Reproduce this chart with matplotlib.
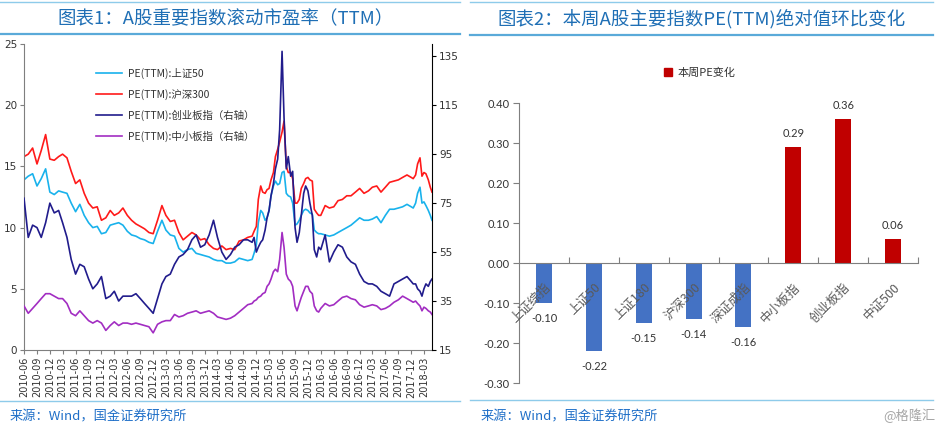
import matplotlib
matplotlib.use('Agg')
import matplotlib.pyplot as plt
from matplotlib.lines import Line2D
from matplotlib.patches import Patch
import numpy as np
import pandas as pd

plt.rcParams['font.family'] = ['Noto Sans CJK SC', 'DejaVu Sans']
plt.rcParams['axes.unicode_minus'] = False

# ---------------- data: chart 1 (dates) ----------------
monthly = pd.date_range('2010-06-01', '2018-04-01', freq='MS')
mid_2015 = pd.date_range('2014-11-01', '2016-02-01', freq='MS') + pd.Timedelta(days=14)
mid_2018 = pd.date_range('2017-12-01', '2018-04-01', freq='MS') + pd.Timedelta(days=14)
last_day = pd.DatetimeIndex(['2018-04-27'])
dates = monthly.union(mid_2015).union(mid_2018).union(last_day)

# PE(TTM) 上证50 (left axis)
sz50 = (
    [13.9, 14.2, 14.4, 13.4, 14.0, 14.8, 12.9] +
    [12.7, 13.0, 12.9, 12.8, 12.0, 11.3, 11.9, 11.0, 10.4, 10.0, 10.1, 9.5] +
    [9.6, 10.2, 10.3, 10.4, 10.2, 9.7, 9.4, 9.3, 9.1, 9.0, 8.8, 8.7] +
    [9.7, 10.6, 9.8, 9.4, 9.3, 8.3, 8.0, 8.2, 8.3, 7.9, 7.8, 7.7] +
    [7.6, 7.4, 7.3, 7.3, 7.1, 7.1, 7.2, 7.5, 7.4, 7.3, 7.4, 7.9, 8.6, 10.4] +
    [11.4, 11.2, 10.6, 10.8, 11.4, 12.6, 13.4, 13.8, 13.5, 13.6, 14.5, 14.6,
     12.8, 12.6, 12.5, 12.0, 10.2, 10.3, 10.6, 11.0, 11.4, 11.5, 11.4, 11.2] +
    [11.1, 9.8, 9.6, 9.5, 9.5, 9.4, 9.3, 9.4, 9.6, 9.8, 10.0, 10.2, 10.5, 10.8] +
    [10.6, 10.6, 10.7, 10.9, 10.4, 11.0, 11.5, 11.5, 11.6, 11.7, 11.9, 11.7, 11.6] +
    [12.0, 12.8, 13.3, 12.0, 12.1, 11.8, 11.4, 11.0, 10.6]
)
# PE(TTM) 沪深300 (left axis)
hs300 = (
    [15.8, 16.0, 16.5, 15.2, 16.3, 17.6, 15.6] +
    [15.5, 15.8, 16.0, 15.7, 14.6, 13.6, 13.9, 12.8, 12.0, 11.6, 11.7, 10.6] +
    [10.8, 11.4, 11.0, 11.2, 11.6, 11.0, 10.6, 10.3, 10.1, 9.9, 9.6, 9.5] +
    [10.6, 11.8, 11.0, 10.5, 10.6, 9.6, 9.0, 9.3, 9.6, 9.4, 9.0, 9.1] +
    [8.6, 8.3, 8.2, 8.5, 8.2, 8.3, 8.2, 8.9, 9.0, 9.2, 9.3, 9.7, 10.1, 12.3] +
    [13.4, 12.9, 12.8, 13.1, 13.2, 13.9, 14.5, 15.8, 16.4, 17.0, 17.8, 18.7,
     15.0, 14.5, 14.5, 14.0, 12.0, 12.0, 12.3, 13.2, 13.6, 14.0, 14.1, 13.9] +
    [13.8, 11.5, 11.2, 11.0, 11.0, 11.8, 11.6, 11.7, 12.2, 12.3, 12.6, 12.6, 12.9, 13.2] +
    [12.8, 13.0, 13.3, 13.4, 12.9, 13.3, 13.7, 13.8, 13.9, 14.1, 14.3, 14.1, 14.0] +
    [14.3, 15.2, 15.7, 14.2, 14.5, 14.4, 13.9, 13.3, 12.9]
)
# PE(TTM) 创业板指 (right axis)
cyb = (
    [77, 61, 66, 65, 61, 67, 75] +
    [71, 72, 67, 61, 52, 46, 50, 49, 44, 40, 42, 45] +
    [36, 37, 39, 35, 37, 37, 37, 38, 36, 34, 32, 30] +
    [36, 42, 45, 46, 50, 53, 54, 56, 60, 62, 57, 58] +
    [62, 68, 61, 55, 52, 54, 57, 58, 60, 60, 59, 61, 55, 57] +
    [59, 60, 64, 69, 72, 78, 83, 89, 93, 105, 137, 110,
     89, 94, 86, 88, 65, 59, 63, 70, 79, 82, 80, 75] +
    [70, 56, 53, 57, 56, 62, 51, 55, 58, 57, 53, 51, 50, 46] +
    [43, 42, 42, 41, 39, 38, 37, 42, 43, 44, 45, 43, 42] +
    [42, 40, 39, 37, 40, 42, 41, 43, 44]
)
# PE(TTM) 中小板指 (right axis)
zxb = (
    [33, 30, 32, 34, 36, 38, 38] +
    [37, 36, 36, 34, 30, 29, 31, 29, 27, 26, 27, 26] +
    [23, 25, 26.5, 25, 26, 26, 25.5, 26, 25.5, 25, 24.5, 22] +
    [25.5, 26.5, 27, 27, 29.5, 28.5, 29, 30, 30.5, 31, 30, 30.5] +
    [31, 30, 28.5, 28, 27.5, 28, 29, 30.5, 32, 33.5, 34, 35, 35.5, 36.5] +
    [37, 38, 38.5, 41, 42, 44, 47, 48, 47, 52, 63, 57,
     46, 44, 43, 41, 33, 31, 34, 36.5, 39, 41, 41, 39] +
    [38, 33, 31, 30.5, 32, 34, 33, 33.5, 35, 36.5, 37, 36, 35.5, 33.5] +
    [32.5, 33, 33.5, 33, 31.5, 32, 33, 34.5, 35.5, 37, 36, 35, 34.5] +
    [35, 34, 33, 31, 32.5, 32, 31, 30.5, 29.5]
)
labels1 = ['PE(TTM):上证50', 'PE(TTM):沪深300',
           'PE(TTM):创业板指（右轴）', 'PE(TTM):中小板指（右轴）']

# ---------------- data: chart 2 ----------------
categories = ['上证综指', '上证50', '上证180', '沪深300', '深证成指', '中小板指', '创业板指', '中证500']
pe_change = [-0.10, -0.22, -0.15, -0.14, -0.16, 0.29, 0.36, 0.06]
legend2 = '本周PE变化'

title1 = '图表1：A股重要指数滚动市盈率（TTM）'
title2 = '图表2：本周A股主要指数PE(TTM)绝对值环比变化'
source = '来源：Wind，国金证券研究所'

assert len(dates) == len(sz50) == len(hs300) == len(cyb) == len(zxb)

W, H = 943, 428
fig = plt.figure(figsize=(W / 100, H / 100), dpi=100)
fig.patch.set_facecolor('white')

def fx(px):
    return px / W

def fy(py):
    return 1 - py / H

C_CYAN, C_RED, C_NAVY, C_PURP = '#19B2EC', '#FF1A1A', '#211C8C', '#A22DC2'
TXT = '#333333'
AXC = '#7F7F7F'

# ---------------- chart 1 ----------------
ax = fig.add_axes([fx(24), 1 - 350 / H, 408 / W, 306 / H])
l1, = ax.plot(dates, sz50, color=C_CYAN, lw=1.2)
l2, = ax.plot(dates, hs300, color=C_RED, lw=1.2)
ax2 = ax.twinx()
l3, = ax2.plot(dates, cyb, color=C_NAVY, lw=1.2)
l4, = ax2.plot(dates, zxb, color=C_PURP, lw=1.2)

ax.set_xlim(dates[0], dates[-1])
ax.set_ylim(0, 25)
ax2.set_ylim(15, 140)
ax.set_yticks(np.arange(0, 26, 5))
ax2.set_yticks(np.arange(15, 136, 20))
xt = pd.date_range('2010-06-01', '2018-03-01', freq='3MS')
ax.set_xticks(xt)
ax.set_xticklabels([d.strftime('%Y-%m') for d in xt], rotation=90, fontsize=7,
                   color=TXT, family=['DejaVu Sans'])
ax.tick_params(axis='x', length=3, width=0.8, color=AXC, pad=2)
ax.tick_params(axis='y', length=3, width=0.8, color=AXC, labelsize=7.5,
               labelcolor=TXT, pad=2)
ax2.tick_params(axis='y', length=3, width=0.8, color='black', labelsize=7.5,
                labelcolor=TXT, pad=2)
for t in ax.get_yticklabels() + ax2.get_yticklabels():
    t.set_family(['DejaVu Sans'])
for s in ['top', 'right']:
    ax.spines[s].set_visible(False)
ax.spines['left'].set_color(AXC)
ax.spines['bottom'].set_color(AXC)
ax2.spines['top'].set_visible(False)
ax2.spines['left'].set_visible(False)
ax2.spines['bottom'].set_visible(False)
ax2.spines['right'].set_color('black')

leg = ax2.legend([l1, l2, l3, l4], labels1, loc='upper left',
                 bbox_to_anchor=(fx(96), fy(68)), bbox_transform=fig.transFigure,
                 frameon=False, fontsize=7.5, handlelength=2.5, handletextpad=0.6,
                 labelspacing=0.95, borderpad=0, borderaxespad=0)
for t in leg.get_texts():
    t.set_color(TXT)

# ---------------- chart 2 ----------------
axb = fig.add_axes([fx(519), 1 - 383.3 / H, 399 / W, 280 / H])
xpos = np.arange(len(categories))
bar_colors = ['#4472C4' if v < 0 else '#C00000' for v in pe_change]
axb.bar(xpos, pe_change, width=0.32, color=bar_colors, zorder=2)
axb.set_xlim(-0.5, len(categories) - 0.5)
axb.set_ylim(-0.30, 0.40)
yt = np.round(np.arange(-0.3, 0.41, 0.1), 2)
axb.set_yticks(yt)
axb.set_yticklabels([f'{v:.2f}' for v in yt], family=['Lato', 'DejaVu Sans'],
                    fontsize=8, color=TXT)
axb.tick_params(axis='y', length=4, width=0.8, color=AXC, pad=3)
axb.spines['top'].set_visible(False)
axb.spines['right'].set_visible(False)
axb.spines['left'].set_color(AXC)
axb.spines['bottom'].set_position(('data', 0))
axb.spines['bottom'].set_color(AXC)
axb.set_xticks(np.arange(0.5, len(categories), 1.0))
axb.set_xticklabels([])
axb.tick_params(axis='x', direction='in', length=4, width=0.8, color=AXC)

for i, (c, v) in enumerate(zip(categories, pe_change)):
    axb.text(i + 0.1, -0.055, c, rotation=45, rotation_mode='anchor',
             ha='right', va='center', fontsize=9, color='#595959', zorder=3)
    off = -15 if v < 0 else 14
    axb.annotate(f'{v:.2f}', (i, v), xytext=(0, off * 0.72), textcoords='offset points',
                 ha='center', va='center', fontsize=8, color=TXT,
                 family=['Lato', 'DejaVu Sans'])

leg2 = axb.legend([Patch(color='#C00000')], [legend2], loc='center left',
                  bbox_to_anchor=(fx(664), fy(73)), bbox_transform=fig.transFigure,
                  frameon=False, fontsize=8, handlelength=0.7, handleheight=0.7,
                  handletextpad=0.5, borderpad=0, borderaxespad=0)
for t in leg2.get_texts():
    t.set_color(TXT)

# ---------------- decorations ----------------
def hline(x0, x1, y, color, lw):
    fig.add_artist(Line2D([fx(x0), fx(x1)], [fy(y), fy(y)], color=color, lw=lw,
                          transform=fig.transFigure))

hline(0, 460, 2, '#8ECBEA', 1.0)
hline(470, 933, 2, '#8ECBEA', 1.0)
hline(0, 460, 33.5, '#5AAAD9', 1.6)
hline(470, 933, 35, '#5AAAD9', 1.6)
hline(0, 460, 401, '#8ECBEA', 1.0)
hline(470, 933, 400, '#8ECBEA', 1.0)

fig.text(fx(226), fy(19.5), title1, ha='center', va='center', fontsize=13.3, color='#1F6FB5')
fig.text(fx(702), fy(18.5), title2, ha='center', va='center', fontsize=13.3, color='#1F6FB5')
fig.text(fx(10), fy(417), source, ha='left', va='center', fontsize=9.5, color='#1F6FC8')
fig.text(fx(481), fy(417), source, ha='left', va='center', fontsize=9.5, color='#1F6FC8')
fig.text(fx(935), fy(416), '@格隆汇', ha='right', va='center', fontsize=9.5, color='#A6A6A6')

fig.savefig('out.png', dpi=100, facecolor='white')
